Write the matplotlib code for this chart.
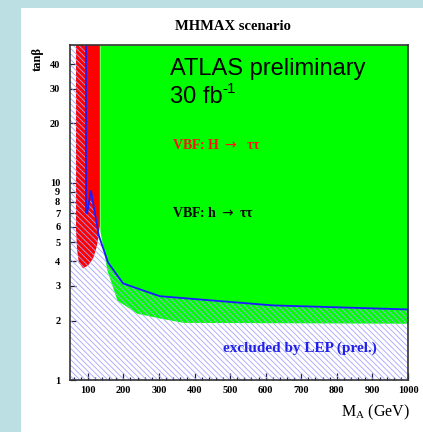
import matplotlib.pyplot as plt
from matplotlib.patches import Rectangle
from matplotlib.ticker import FixedLocator, NullFormatter

# LEP exclusion boundary (region below is excluded)
lep_mass = [50, 95, 95, 98, 109, 131, 157, 199, 247, 303, 620, 1000]
lep_tanb = [50, 50, 7.05, 7.0, 9.1, 5.4, 3.94, 3.09, 2.88, 2.66, 2.39, 2.28]

# VBF h -> tautau discovery region (lower edge, filled up to the top)
h_mass = [134, 134, 154, 182, 238, 303, 368, 1000]
h_tanb_low = [50, 5.72, 3.59, 2.54, 2.18, 2.06, 1.96, 1.94]

# VBF H -> tautau discovery region (closed contour)
H_mass = [67, 134, 134, 126, 115, 101, 87, 75, 70, 67]
H_tanb = [50, 50, 6.07, 4.8, 4.13, 3.81, 3.68, 3.94, 4.54, 5.72]

x_ticks = [100, 200, 300, 400, 500, 600, 700, 800, 900, 1000]
y_ticks = [1, 2, 3, 4, 5, 6, 7, 8, 9, 10, 20, 30, 40]

serif = ['Liberation Serif', 'DejaVu Serif']
plt.rcParams['hatch.linewidth'] = 0.6

fig = plt.figure(figsize=(4.23, 4.32), dpi=100, facecolor='white')
# slide-style frame
fig.patches.append(Rectangle((0, 0), 21 / 423, 1, transform=fig.transFigure,
                             facecolor='#bbdfe3', edgecolor='none'))
fig.patches.append(Rectangle((0, 1 - 8 / 432), 1, 8 / 432, transform=fig.transFigure,
                             facecolor='#bbdfe3', edgecolor='none'))

ax = fig.add_axes([70 / 423, 52 / 432, 338 / 423, 335 / 432])
ax.set_yscale('log')
ax.set_xlim(50, 1000)
ax.set_ylim(1, 50)

ax.fill_between(h_mass, h_tanb_low, 50, color='#00ff00', linewidth=0, zorder=1)
ax.fill(H_mass, H_tanb, color='#ff0000', linewidth=0, zorder=2)
ax.fill_between(lep_mass, 1, lep_tanb, facecolor='none', edgecolor='#a4a4ff',
                hatch='\\\\\\\\\\\\', linewidth=0, zorder=3)
ax.plot(lep_mass[1:], lep_tanb[1:], color='#1a1aff', lw=1.3, zorder=4)

ax.text(331, 35.2, 'ATLAS preliminary', family='Liberation Sans', fontsize=17,
        va='baseline', zorder=5)
ax.text(331, 25.4, '30 fb', family='Liberation Sans', fontsize=17,
        va='baseline', zorder=5)
ax.annotate('-1', xy=(331, 25.4), xytext=(38, 7), textcoords='offset points',
            family='Liberation Sans', fontsize=11, va='baseline', zorder=5)
ax.text(337, 15.6, 'VBF: H $\\rightarrow$  \u03c4\u03c4', family=serif, fontsize=10,
        fontweight='bold', color='#ff1010', va='center', zorder=5)
ax.text(337, 7.03, 'VBF: h $\\rightarrow$ \u03c4\u03c4', family=serif, fontsize=10,
        fontweight='bold', color='black', va='center', zorder=5)
ax.text(480, 1.45, 'excluded by LEP (prel.)', family=serif, fontsize=11,
        fontweight='bold', color='#2020e8', va='center', zorder=5)

ax.xaxis.set_major_locator(FixedLocator(x_ticks))
ax.xaxis.set_minor_locator(FixedLocator(range(60, 1000, 20)))
ax.set_xticklabels([str(t) for t in x_ticks], family=serif, fontweight='bold', fontsize=7.5)
ax.yaxis.set_major_locator(FixedLocator(y_ticks))
ax.yaxis.set_minor_formatter(NullFormatter())
ax.yaxis.set_minor_locator(FixedLocator([]))
ax.set_yticklabels([str(t) for t in y_ticks], family=serif, fontweight='bold', fontsize=7.5)

ax.tick_params(axis='both', which='both', direction='in', color='#202040', width=0.9)
ax.tick_params(axis='x', which='major', length=5, pad=4)
ax.tick_params(axis='x', which='minor', length=2.5)
ax.tick_params(axis='y', which='major', length=4, pad=7)

for s in ax.spines.values():
    s.set_color('#333333')
    s.set_linewidth(1.2)
    s.set_zorder(6)

fig.text(233 / 423, 1 - 26 / 432, 'MHMAX scenario', family=serif, fontweight='bold',
         fontsize=10.5, ha='center', va='center')
fig.text(38 / 423, 1 - 59 / 432, 'tan\u03b2', family=serif, fontweight='bold',
         fontsize=9, rotation=90, ha='center', va='center')
fig.text(410 / 423, 1 - 412 / 432, r'M$_{\mathregular{A}}$ (GeV)', family=serif,
         fontsize=11.5, ha='right', va='center')

fig.savefig('out.png', dpi=100, facecolor='white')
